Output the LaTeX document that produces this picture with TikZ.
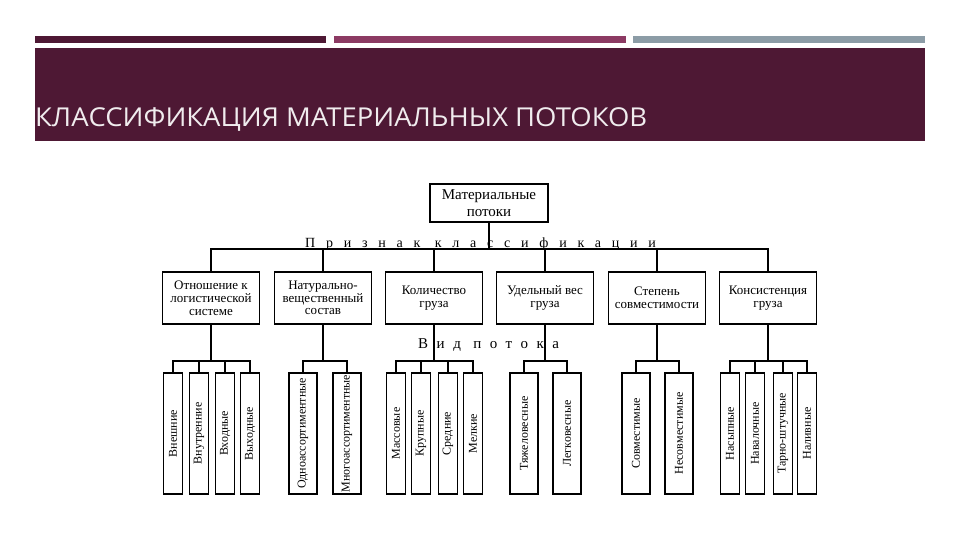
\documentclass[tikz,border=0pt]{standalone}
\usepackage{fontspec}
\usepackage{graphicx}
\setmainfont{Liberation Serif}
\newfontfamily\titlefont[FakeStretch=1.055]{Open Sans}
\newfontfamily\spacedfont[LetterSpace=77]{Liberation Serif}
\newfontfamily\kindfont[LetterSpace=57]{Liberation Serif}
\usetikzlibrary{positioning}
\definecolor{band}{HTML}{4E1834}
\definecolor{barpink}{HTML}{8C3A63}
\definecolor{bargrey}{HTML}{8C9CA6}
\definecolor{titletext}{HTML}{F0ECEE}
\tikzset{
  root/.style={draw, line width=1.8pt, minimum width=118pt, minimum height=38pt, inner sep=0pt, align=center, font=\fontsize{15}{16.5}\selectfont},
  cat/.style={draw, line width=1.8pt, minimum width=97pt, minimum height=52pt, inner sep=0pt, align=center, font=\fontsize{13}{12.8}\selectfont},
  leaf/.style={draw, line width=1.8pt, minimum width=19pt, minimum height=121pt, inner sep=0pt, font=\fontsize{12}{12}\selectfont},
  wide/.style={leaf, minimum width=28pt},
  link/.style={line width=1.1pt},
  heavy/.style={line width=2.6pt},
  spaced/.style={anchor=base west, inner sep=0pt, font=\spacedfont\fontsize{14}{14}\selectfont},
}

\begin{document}
\begin{tikzpicture}[x=1pt,y=-1pt]
\useasboundingbox (0,0) rectangle (960,540);

% header
\fill[band] (35,36) rectangle (326,43);
\fill[barpink] (334,36) rectangle (626,43);
\fill[bargrey] (633,36) rectangle (925,43);
\fill[band] (35,48) rectangle (925,141);
\node[anchor=base west, inner sep=0pt, text=titletext, font=\titlefont\fontsize{26}{26}\selectfont] (title) at (35,127) {КЛАССИФИКАЦИЯ МАТЕРИАЛЬНЫХ ПОТОКОВ};

% root and classification features
\node[root] (root) at (489,203) {Материальные\\потоки};
\node[spaced] (sign) at (305,247) {Признак классификации};
\coordinate (bus) at (0,249);

\node[cat] (rel) at (211,298) {Отношение к\\логистической\\системе};
\node[cat] (nat) at (323,298) {Натурально-\\вещественный\\состав};
\node[cat] (qty) at (434,298) {Количество\\груза};
\node[cat] (wgt) at (545,298) {Удельный вес\\груза};
\node[cat] (cmp) at (657,298) {Степень\\совместимости};
\node[cat] (cns) at (768,298) {Консистенция\\груза};

\draw[link] (root) -- (root |- bus);
\draw[link] (rel.north) |- (cns.north |- bus) -- (cns.north);
\foreach \c in {nat,qty,wgt}
  \draw[link] (\c.north |- bus) -- (\c.north);
\draw[heavy] (cmp.north |- bus) -- (cmp.north);

% kinds of flow
\node[spaced, font=\kindfont\fontsize{15}{15}\selectfont] (kind) at (418,348) {Вид потока};
\coordinate (fork) at (0,361);

\node[leaf] (ext) at (173,433.5) {\rotatebox{90}{Внешние}};
\node[leaf] (int) at (199,433.5) {\rotatebox{90}{Внутренние}};
\node[leaf] (inb) at (225,433.5) {\rotatebox{90}{Входные}};
\node[leaf] (outb) at (250,433.5) {\rotatebox{90}{Выходные}};

\node[wide] (single) at (303,433.5) {\rotatebox{90}{Одноассортиментные}};
\node[wide] (multi) at (347,433.5) {\rotatebox{90}{Многоассортиментные}};

\node[leaf] (mass) at (396,433.5) {\rotatebox{90}{Массовые}};
\node[leaf] (large) at (421,433.5) {\rotatebox{90}{Крупные}};
\node[leaf] (mid) at (448,433.5) {\rotatebox{90}{Средние}};
\node[leaf] (small) at (473,433.5) {\rotatebox{90}{Мелкие}};

\node[wide] (heavyw) at (524,433.5) {\rotatebox{90}{Тяжеловесные}};
\node[wide] (light) at (567,433.5) {\rotatebox{90}{Легковесные}};

\node[wide] (compat) at (636,433.5) {\rotatebox{90}{Совместимые}};
\node[wide] (incompat) at (679,433.5) {\rotatebox{90}{Несовместимые}};

\node[leaf] (bulk) at (730,433.5) {\rotatebox{90}{Насыпные}};
\node[leaf] (loose) at (755,433.5) {\rotatebox{90}{Навалочные}};
\node[leaf] (piece) at (783,433.5) {\rotatebox{90}{Тарно-штучные}};
\node[leaf] (liquid) at (807,433.5) {\rotatebox{90}{Наливные}};

% brackets
\draw[link] (rel.south) -- (rel.south |- fork);
\draw[link] (ext.north) |- (outb.north |- fork) -- (outb.north);
\foreach \n in {int,inb}
  \draw[link] (\n.north |- fork) -- (\n.north);

\draw[link] (nat.south) -- (nat.south |- fork);
\draw[link] (single.north) |- (multi.north |- fork) -- (multi.north);

\draw[heavy] (qty.south) -- (qty.south |- fork);
\draw[link] (mass.north) |- (small.north |- fork) -- (small.north);
\foreach \n in {large,mid}
  \draw[link] (\n.north |- fork) -- (\n.north);

\draw[link] (wgt.south) -- (wgt.south |- fork);
\draw[link] (heavyw.north) |- (light.north |- fork) -- (light.north);

\draw[heavy] (cmp.south) -- (cmp.south |- fork);
\draw[link] (compat.north) |- (incompat.north |- fork) -- (incompat.north);

\draw[link] (cns.south) -- (cns.south |- fork);
\draw[link] (bulk.north) |- (liquid.north |- fork) -- (liquid.north);
\foreach \n in {loose,piece}
  \draw[link] (\n.north |- fork) -- (\n.north);

\end{tikzpicture}
\end{document}
